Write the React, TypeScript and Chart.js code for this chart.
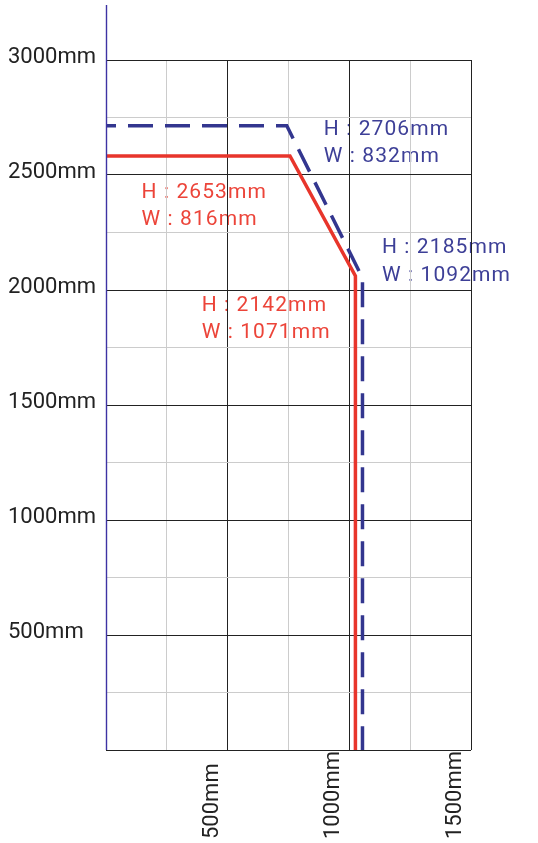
import React, { useEffect, useRef } from "react";
import { Chart, registerables } from "chart.js";

Chart.register(...registerables);

// Series (mm)
const redX = [0, 756, 1025, 1025];
const redY = [2583, 2583, 2061, 0];
const blueX = [0, 743, 1054, 1054];
const blueY = [2714, 2714, 2052, 0];

// Axis tick labels
const xTickValues = [500, 1000, 1500];
const xTickLabels = ["500mm", "1000mm", "1500mm"];
const yTickValues = [500, 1000, 1500, 2000, 2500, 3000];
const yTickLabels = ["500mm", "1000mm", "1500mm", "2000mm", "2500mm", "3000mm"];

// Annotation texts and their anchor (mm) positions
const annoTexts = [
  ["H : 2706mm", "W : 832mm"],
  ["H : 2653mm", "W : 816mm"],
  ["H : 2185mm", "W : 1092mm"],
  ["H : 2142mm", "W : 1071mm"],
];
const annoX = [895, 146, 1134, 393];
const annoY = [2698, 2425, 2183, 1933];
const annoSeries = ["blue", "red", "blue", "red"];

const RED_LINE = "#e8352b";
const BLUE_LINE = "#33368f";
const RED_TEXT = "#ec4439";
const BLUE_TEXT = "#3d3f97";
const AXIS_BLUE = "#3d33a3";
const FONT = "Roboto, 'DejaVu Sans', sans-serif";

const textPlugin = {
  id: "customText",
  beforeDraw(chart: any) {
    const ctx = chart.ctx;
    const xs = chart.scales.x;
    const ys = chart.scales.y;
    ctx.save();
    ctx.font = `21px ${FONT}`;
    ctx.textAlign = "left";
    ctx.textBaseline = "middle";
    try { (ctx as any).letterSpacing = "1.1px"; } catch (e) {}
    annoTexts.forEach((lines, i) => {
      ctx.fillStyle = annoSeries[i] === "red" ? RED_TEXT : BLUE_TEXT;
      const px = xs.getPixelForValue(annoX[i]);
      const py = ys.getPixelForValue(annoY[i]);
      lines.forEach((t, j) => ctx.fillText(t, px, py + j * 27.5));
    });
    ctx.restore();
  },
  afterDraw(chart: any) {
    const ctx = chart.ctx;
    const xs = chart.scales.x;
    const ys = chart.scales.y;
    const area = chart.chartArea;
    ctx.save();
    // y axis line (blue) extending above plot
    ctx.strokeStyle = AXIS_BLUE;
    ctx.lineWidth = 1.4;
    ctx.beginPath();
    ctx.moveTo(Math.round(area.left) + 0.5, 5);
    ctx.lineTo(Math.round(area.left) + 0.5, area.bottom);
    ctx.stroke();

    ctx.fillStyle = "#222";
    ctx.font = `22px ${FONT}`;
    ctx.textAlign = "left";
    ctx.textBaseline = "middle";
    yTickValues.forEach((v, i) => {
      ctx.fillText(yTickLabels[i], 8, ys.getPixelForValue(v) - 3);
    });
    xTickValues.forEach((v, i) => {
      const px = xs.getPixelForValue(v) - 15.5;
      ctx.save();
      ctx.translate(px, 839);
      ctx.rotate(-Math.PI / 2);
      ctx.fillText(xTickLabels[i], 0, 0);
      ctx.restore();
    });
    ctx.restore();
  },
};

const gridColor = (ctx: any) => {
  const v = ctx.tick ? ctx.tick.value : 0;
  return v % 500 === 0 ? "#222222" : "#cccccc";
};

export default function App() {
  const ref = useRef<HTMLCanvasElement>(null);
  useEffect(() => {
    if (!ref.current) return;
    const chart = new Chart(ref.current, {
      type: "line",
      data: {
        datasets: [
          {
            data: blueX.map((x, i) => ({ x, y: blueY[i] })),
            borderColor: BLUE_LINE,
            borderWidth: 3.5,
            borderDash: [25, 12],
            borderDashOffset: 15,
            pointRadius: 0,
            tension: 0,
            fill: false,
            borderJoinStyle: "miter",
          },
          {
            data: redX.map((x, i) => ({ x, y: redY[i] })),
            borderColor: RED_LINE,
            borderWidth: 3.5,
            pointRadius: 0,
            tension: 0,
            fill: false,
            borderJoinStyle: "miter",
          },
        ],
      },
      options: {
        responsive: false,
        animation: false,
        events: [],
        layout: { padding: { left: 106, right: 67, top: 60, bottom: 93 } },
        plugins: { legend: { display: false }, tooltip: { enabled: false } },
        scales: {
          x: {
            type: "linear",
            min: 0,
            max: 1500,
            ticks: { display: false, stepSize: 250 },
            grid: { drawTicks: false, color: gridColor, lineWidth: 1 },
            border: { display: false },
          },
          y: {
            type: "linear",
            min: 0,
            max: 3000,
            ticks: { display: false, stepSize: 250 },
            grid: { drawTicks: false, color: gridColor, lineWidth: 1 },
            border: { display: false },
          },
        },
      },
      plugins: [textPlugin],
    } as any);
    return () => chart.destroy();
  }, []);
  return (
    <div style={{ position: "absolute", left: 0, top: 0, width: 538, height: 843, background: "#fff" }}>
      <canvas ref={ref} width={538} height={843} style={{ display: "block" }} />
    </div>
  );
}
